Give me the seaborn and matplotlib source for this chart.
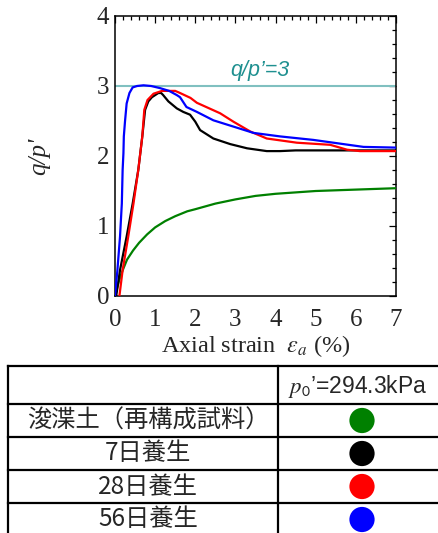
import numpy as np
import pandas as pd
import matplotlib
matplotlib.use("Agg")
import matplotlib.pyplot as plt
import seaborn as sns

# ---------------- data ----------------
green_x = [0, 0.1, 0.2, 0.3, 0.45, 0.6, 0.8, 1.0, 1.25, 1.5, 1.8, 2.0, 2.5, 3.0, 3.5, 4.0, 4.5, 5.0, 5.5, 6.0, 6.5, 7.0]
green_y = [0, 0.22, 0.38, 0.52, 0.65, 0.76, 0.88, 0.98, 1.07, 1.14, 1.21, 1.24, 1.32, 1.38, 1.43, 1.46, 1.48, 1.50, 1.51, 1.52, 1.53, 1.54]

black_x = [0.03, 0.125, 0.29, 0.44, 0.58, 0.68, 0.75, 0.83, 0.92, 1.0, 1.08, 1.15, 1.2, 1.33, 1.54, 1.7, 1.87, 2.0, 2.12, 2.45, 2.87, 3.29, 3.78, 4.11, 4.5, 5.0, 6.0, 7.0]
black_y = [0, 0.37, 0.85, 1.32, 1.80, 2.28, 2.66, 2.78, 2.84, 2.87, 2.90, 2.90, 2.87, 2.78, 2.68, 2.63, 2.59, 2.49, 2.37, 2.25, 2.17, 2.11, 2.07, 2.07, 2.08, 2.08, 2.08, 2.08]

red_x = [0.11, 0.19, 0.33, 0.46, 0.58, 0.68, 0.73, 0.81, 0.96, 1.17, 1.5, 1.62, 1.88, 2.04, 2.62, 2.95, 3.37, 3.78, 4.53, 5.36, 5.78, 6.1, 7.0]
red_y = [0, 0.37, 0.85, 1.32, 1.80, 2.28, 2.66, 2.80, 2.89, 2.93, 2.93, 2.90, 2.83, 2.76, 2.61, 2.49, 2.35, 2.25, 2.19, 2.16, 2.09, 2.07, 2.07]

blue_x = [0.0, 0.06, 0.125, 0.17, 0.19, 0.21, 0.22, 0.25, 0.29, 0.36, 0.44, 0.55, 0.71, 0.9, 1.12, 1.35, 1.54, 1.62, 1.78, 2.04, 2.45, 2.95, 3.45, 4.11, 4.94, 5.44, 6.19, 7.0]
blue_y = [0, 0.37, 0.85, 1.32, 1.80, 2.04, 2.28, 2.50, 2.75, 2.90, 2.98, 3.00, 3.01, 3.00, 2.97, 2.93, 2.87, 2.84, 2.70, 2.63, 2.51, 2.42, 2.33, 2.28, 2.23, 2.19, 2.13, 2.12]

series_labels = ["浚渫土（再構成試料）", "7日養生", "28日養生", "56日養生"]
series_colors = ["#008000", "#000000", "#ff0000", "#0000ff"]
ref_ratio = 3
header_label = r"$p_{\mathsf{0}}$’=294.3kPa"

x_ticks = [0, 1, 2, 3, 4, 5, 6, 7]
y_ticks = [0, 1, 2, 3, 4]

frames = []
for lab, xs, ys in zip(series_labels,
                       [green_x, black_x, red_x, blue_x],
                       [green_y, black_y, red_y, blue_y]):
    frames.append(pd.DataFrame({"strain": xs, "ratio": ys, "series": lab}))
df = pd.concat(frames, ignore_index=True)

# ---------------- style ----------------
sns.set_style("white")
plt.rcParams["font.family"] = ["Liberation Serif", "DejaVu Serif"]
plt.rcParams["mathtext.fontset"] = "stix"

W, H = 438, 533
fig = plt.figure(figsize=(W / 100, H / 100), dpi=100)
ax = fig.add_axes([115 / W, 1 - 296 / H, 281 / W, 280 / H])

ax.axhline(ref_ratio, color="#80c0c0", lw=1.5, zorder=1)
sns.lineplot(data=df, x="strain", y="ratio", hue="series",
             palette=dict(zip(series_labels, series_colors)),
             estimator=None, sort=False, lw=1.6, legend=False, ax=ax, zorder=3)

ax.set_xlim(0, 7)
ax.set_ylim(0, 4)
ax.set_xticks(x_ticks)
ax.set_yticks(y_ticks)
ax.set_xticklabels([str(t) for t in x_ticks])
ax.set_yticklabels([str(t) for t in y_ticks])
ax.xaxis.set_minor_locator(matplotlib.ticker.MultipleLocator(0.2))
ax.yaxis.set_minor_locator(matplotlib.ticker.MultipleLocator(0.2))
ax.tick_params(which="both", direction="in", top=True, right=True, color="black")
ax.tick_params(which="major", length=5, width=0.9, labelsize=18)
ax.tick_params(axis="x", which="major", pad=9)
ax.tick_params(axis="y", which="major", pad=4)
ax.tick_params(which="minor", length=3, width=0.9)
for s in ax.spines.values():
    s.set_linewidth(1.1)
    s.set_color("black")

ax.set_xlabel(r"Axial strain  $\varepsilon_a$ (%)", fontsize=17.5, labelpad=2)
ax.set_ylabel("q/p'", fontsize=18, style="italic", labelpad=34)

ax.text(3.6, ref_ratio + 0.22, "q/p’=3", color="#1f9090", fontsize=15.5,
        style="italic", family=["Liberation Sans", "DejaVu Sans"],
        ha="center", va="center")

# ---------------- table ----------------
tax = fig.add_axes([0, 0, 1, 1], zorder=5)
tax.set_xlim(0, W)
tax.set_ylim(H, 0)
tax.axis("off")

left, mid, right = 8, 278, 445
top, header_h, row_h = 366, 38, 33
rows_y = [top + header_h + i * row_h for i in range(len(series_labels) + 1)]
line_kw = dict(color="black", lw=1.6, solid_capstyle="projecting")
for yy in [top] + rows_y:
    tax.plot([left, right], [yy, yy], **line_kw)
for xx in [left, mid]:
    tax.plot([xx, xx], [top, H + 5], **line_kw)

cjk = ["Noto Sans CJK JP", "DejaVu Sans"]
tax.text(358, top + header_h / 2 + 1, header_label,
         family=["Liberation Sans", "DejaVu Sans"], math_fontfamily="stix",
         fontsize=16.5, ha="center", va="center")
centers = [rows_y[i] + row_h / 2 for i in range(len(series_labels))]
for lab, cy in zip(series_labels, centers):
    tax.text(148, cy, lab, family=cjk, fontsize=17.5,
             ha="center", va="center")
tax.scatter([362] * len(series_labels), centers,
            s=330, c=series_colors, edgecolors="none", zorder=6)

fig.savefig("out.png", dpi=100)
